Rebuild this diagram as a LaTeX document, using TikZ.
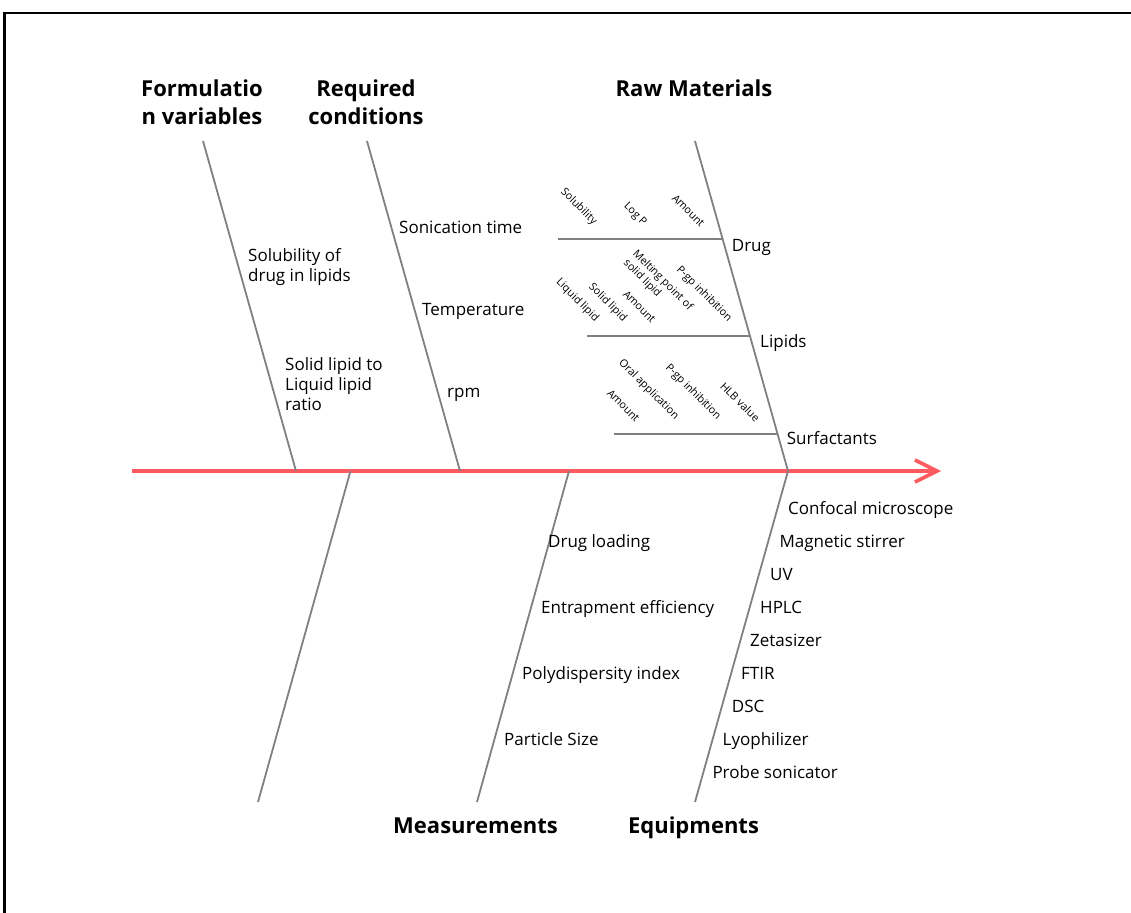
\documentclass[tikz,border=0pt]{standalone}
\usepackage{fontspec}
\setmainfont{Open Sans}
\usetikzlibrary{arrows.meta}
\definecolor{boneGray}{RGB}{128,128,128}
\definecolor{spineRed}{RGB}{255,90,95}
\begin{document}
\begin{tikzpicture}[x=1pt,y=-1pt,
  frameline/.style={draw=black, line width=2.2pt},
  bone/.style={draw=boneGray, line width=1.8pt},
  spine/.style={draw=spineRed, line width=3.6pt, -{Straight Barb[length=22pt,width=22pt]}},
  lbl/.style={font=\fontsize{17}{20}\selectfont, inner sep=0pt, anchor=base west},
  mlbl/.style={font=\fontsize{17}{20}\selectfont, inner sep=0pt, anchor=north west, align=left},
  ttl/.style={font=\fontsize{22}{28}\selectfont\bfseries, inner sep=0pt, align=center},
  sublbl/.style={font=\fontsize{10.8}{13}\selectfont, inner sep=0pt, rotate=-45, anchor=south east}]
\useasboundingbox (0,0) rectangle (1131,912);
% frame
\coordinate (frBL) at (4.5,915);
\coordinate (frTL) at (4.5,13);
\coordinate (frTR) at (1135,13);
\draw[frameline] (frBL) -- (frTL) -- (frTR);
% spine
\coordinate (spL) at (132,471);
\coordinate (spR) at (941,471);
\draw[spine] (spL) -- (spR);
% bones
\coordinate (fTop) at (203,141);   \coordinate (fBot) at (296,471);
\coordinate (rTop) at (367,141);   \coordinate (rBot) at (460,471);
\coordinate (mTop) at (695,141);   \coordinate (mBot) at (788,471);
\coordinate (xTop) at (350.5,471); \coordinate (xBot) at (258,802);
\coordinate (meTop) at (569,471);  \coordinate (meBot) at (477,802);
\coordinate (eqTop) at (788,471);  \coordinate (eqBot) at (695,802);
\draw[bone] (fTop) -- (fBot);
\draw[bone] (rTop) -- (rBot);
\draw[bone] (mTop) -- (mBot);
\draw[bone] (xTop) -- (xBot);
\draw[bone] (meTop) -- (meBot);
\draw[bone] (eqTop) -- (eqBot);
% sub bones of raw materials
\coordinate (drugL) at (558,239);  \coordinate (drugR) at (722.3,239);
\coordinate (lipL) at (586.5,336); \coordinate (lipR) at (749.8,336);
\coordinate (surL) at (614,434);   \coordinate (surR) at (777.5,434);
\draw[bone] (drugL) -- (drugR);
\draw[bone] (lipL) -- (lipR);
\draw[bone] (surL) -- (surR);
% titles
\node[ttl, anchor=north] (tForm) at (202,80) {Formulatio\\n variables};
\node[ttl, anchor=north] (tReq) at (366,80) {Required\\conditions};
\node[ttl, anchor=base] (tRaw) at (694,96.7) {Raw Materials};
\node[ttl, anchor=base] (tMeas) at (475.5,833.3) {Measurements};
\node[ttl, anchor=base] (tEq) at (693.5,833.3) {Equipments};
% formulation variables
\node[mlbl] (fSol) at (248,248.5) {Solubility of\\drug in lipids};
\node[mlbl] (fRat) at (285,357.5) {Solid lipid to\\Liquid lipid\\ratio};
% required conditions
\node[lbl] (rSon) at (399,233.5) {Sonication time};
\node[lbl] (rTem) at (422,315.5) {Temperature};
\node[lbl] (rRpm) at (447,397.5) {rpm};
% raw materials
\node[lbl] (mDrug) at (731.7,251) {Drug};
\node[lbl] (mLip) at (760,347) {Lipids};
\node[lbl] (mSur) at (786.7,444) {Surfactants};
\node[sublbl] (dSol) at (591,227) {Solubility};
\node[sublbl] (dLog) at (641,228) {Log P};
\node[sublbl] (dAmt) at (700,228) {Amount};
\node[sublbl] (lLiq) at (593,324) {Liquid lipid};
\node[sublbl] (lSol) at (621,324) {Solid lipid};
\node[sublbl] (lAmt) at (651,324) {Amount};
\node[sublbl, anchor=center, align=left] (lMelt) at (658,285) {Melting point of\\solid lipid};
\node[sublbl] (lPgp) at (726,324) {P-gp inhibition};
\node[sublbl] (sAmt) at (635,423) {Amount};
\node[sublbl] (sOral) at (673,422) {Oral application};
\node[sublbl] (sPgp) at (715,422) {P-gp inhibition};
\node[sublbl] (sHlb) at (755,423) {HLB value};
% measurements
\node[lbl] (meDL) at (548,547.7) {Drug loading};
\node[lbl] (meEE) at (541,613.3) {Entrapment efficiency};
\node[lbl] (mePI) at (522,679.5) {Polydispersity index};
\node[lbl] (mePS) at (504,745.8) {Particle Size};
% equipments
\node[lbl] (eqCM) at (788,514.3) {Confocal microscope};
\node[lbl] (eqMS) at (779.3,547.7) {Magnetic stirrer};
\node[lbl] (eqUV) at (770,580.5) {UV};
\node[lbl] (eqHP) at (760,613.3) {HPLC};
\node[lbl] (eqZS) at (750,646.3) {Zetasizer};
\node[lbl] (eqFT) at (741,679.5) {FTIR};
\node[lbl] (eqDS) at (731.7,712.5) {DSC};
\node[lbl] (eqLY) at (722.5,745.8) {Lyophilizer};
\node[lbl] (eqPS) at (712.3,778) {Probe sonicator};
\end{tikzpicture}
\end{document}
